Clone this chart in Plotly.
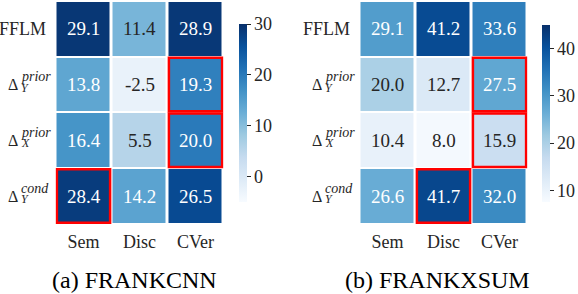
import plotly.graph_objects as go

# ---------------- data ----------------
cols = ["Sem", "Disc", "CVer"]
rows = ["FFLM", "dY_prior", "dX_prior", "dY_cond"]
row_base = ["FFLM", "Δ", "Δ", "Δ"]
row_sup = ["", "prior", "prior", "cond"]
row_sub = ["", "Y", "X", "Y"]

cnn_vals = [[29.1, 11.4, 28.9],
            [13.8, -2.5, 19.3],
            [16.4, 5.5, 20.0],
            [28.4, 14.2, 26.5]]
xsum_vals = [[29.1, 41.2, 33.6],
             [20.0, 12.7, 27.5],
             [10.4, 8.0, 15.9],
             [26.6, 41.7, 32.0]]
cnn_highlight = [("dY_prior", "CVer"), ("dX_prior", "CVer"), ("dY_cond", "Sem")]
xsum_highlight = [("dY_prior", "CVer"), ("dX_prior", "CVer"), ("dY_cond", "Disc")]
cnn_range = [-5, 30]
xsum_range = [7.5, 45]
cnn_ticks = [0, 10, 20, 30]
xsum_ticks = [10, 20, 30, 40]
captions = ["(a) FRANKCNN", "(b) FRANKXSUM"]

# ---------------- layout ----------------
W, H = 578, 294
FONT = "Liberation Serif"
TXT = "#262626"

panels = [
    dict(vals=cnn_vals, hl=cnn_highlight, rng=cnn_range, ticks=cnn_ticks,
         x0=57, x1=222, cb_x=239, cb_top=24, cb_bot=202, cap=captions[0], cap_x=134),
    dict(vals=xsum_vals, hl=xsum_highlight, rng=xsum_range, ticks=xsum_ticks,
         x0=361, x1=526, cb_x=542, cb_top=25, cb_bot=202, cap=captions[1], cap_x=437),
]
y_top, y_bot = 2, 223
XG, YG = 3, 2

fig = go.Figure()
annotations = []
shapes = []

for i, p in enumerate(panels):
    sfx = "" if i == 0 else "2"
    xa, ya = "x" + sfx, "y" + sfx
    zmin, zmax = p["rng"]
    fig.add_trace(go.Heatmap(
        z=p["vals"], x=cols, y=rows, xaxis=xa, yaxis=ya,
        zmin=zmin, zmax=zmax, colorscale="Blues", xgap=XG, ygap=YG,
        hoverinfo="skip",
        colorbar=dict(
            x=p["cb_x"] / W, xanchor="left", xpad=0, ypad=0,
            y=1 - (p["cb_top"] + p["cb_bot"]) / 2 / H, yanchor="middle",
            lenmode="pixels", len=p["cb_bot"] - p["cb_top"],
            thickness=8, outlinewidth=0,
            tickmode="array", tickvals=p["ticks"],
            ticks="outside", ticklen=4, tickwidth=1, tickcolor=TXT,
            tickfont=dict(family=FONT, size=18, color=TXT),
        ),
    ))
    layout_x = dict(
        domain=[(p["x0"] - XG / 2) / W, (p["x1"] + XG / 2) / W],
        anchor=ya, showgrid=False, zeroline=False, showline=False,
        ticks="outside", ticklen=1, tickcolor="rgba(0,0,0,0)",
        tickfont=dict(family=FONT, size=18, color=TXT),
        categoryorder="array", categoryarray=cols,
    )
    layout_y = dict(
        domain=[1 - (y_bot + YG / 2) / H, 1 - (y_top - YG / 2) / H],
        anchor=xa, showgrid=False, zeroline=False, showline=False,
        showticklabels=False, autorange="reversed",
        categoryorder="array", categoryarray=rows,
    )
    fig.update_layout(**{"xaxis" + sfx: layout_x, "yaxis" + sfx: layout_y})

    # cell values
    for r, rk in enumerate(rows):
        for c, ck in enumerate(cols):
            v = p["vals"][r][c]
            t = (v - zmin) / (zmax - zmin)
            annotations.append(dict(
                x=ck, y=rk, xref=xa, yref=ya, text=f"{v:.1f}", showarrow=False,
                font=dict(family=FONT, size=19, color="white" if t > 0.5 else TXT),
            ))

    # row labels
    for r, rk in enumerate(rows):
        base_right = p["x0"] - 9
        if not row_sup[r]:
            annotations.append(dict(
                x=base_right / W, xref="paper", xanchor="right", y=rk, yref=ya,
                text=row_base[r], showarrow=False,
                font=dict(family=FONT, size=18, color=TXT)))
        else:
            d_right = p["x0"] - 37
            annotations.append(dict(
                x=d_right / W, xref="paper", xanchor="right", y=rk, yref=ya, yshift=0,
                text=row_base[r], showarrow=False,
                font=dict(family=FONT, size=16, color=TXT)))
            annotations.append(dict(
                x=(d_right - 1) / W, xref="paper", xanchor="left", y=rk, yref=ya, yshift=8,
                text="<i>" + row_sup[r] + "</i>", showarrow=False,
                font=dict(family=FONT, size=14, color=TXT)))
            annotations.append(dict(
                x=(d_right - 1) / W, xref="paper", xanchor="left", y=rk, yref=ya, yshift=-3,
                text="<i>" + row_sub[r] + "</i>", showarrow=False,
                font=dict(family=FONT, size=12, color=TXT)))

    # highlight boxes
    inset = 0.025
    for rk, ck in p["hl"]:
        ri, ci = rows.index(rk), cols.index(ck)
        shapes.append(dict(
            type="rect", xref=xa, yref=ya,
            x0=ci - 0.5 + inset, x1=ci + 0.5 - inset,
            y0=ri - 0.5 + inset * 0.8, y1=ri + 0.5 - inset * 0.8,
            line=dict(color="#ff0000", width=2.5), fillcolor="rgba(0,0,0,0)",
        ))

    # caption
    annotations.append(dict(
        x=p["cap_x"] / W, y=1 - 280 / H, xref="paper", yref="paper",
        xanchor="center", yanchor="middle", text=p["cap"], showarrow=False,
        font=dict(family=FONT, size=24, color="black")))

fig.update_layout(
    width=W, height=H, margin=dict(l=0, r=0, t=0, b=0),
    paper_bgcolor="white", plot_bgcolor="white",
    annotations=annotations, shapes=shapes, showlegend=False,
)
fig.write_html("out.html", config={"displayModeBar": False, "staticPlot": True},
               post_script="document.body.style.margin='0';document.body.style.padding='0';")
